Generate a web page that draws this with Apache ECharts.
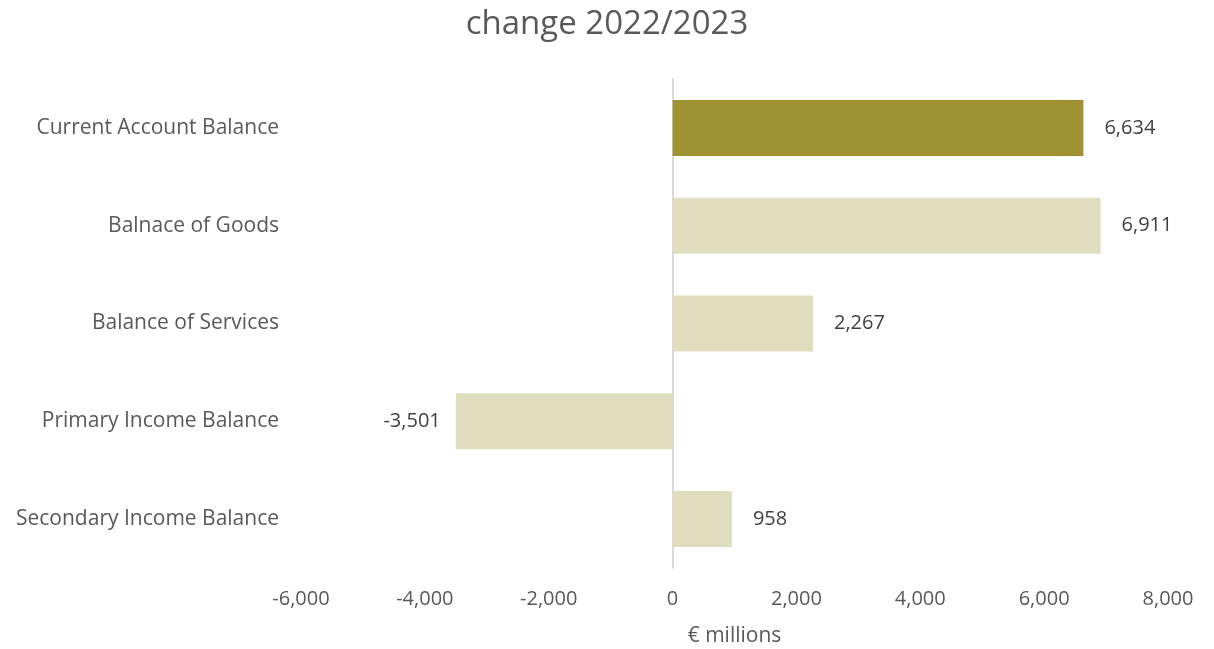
<!DOCTYPE html>
<html><head><meta charset="utf-8">
<script src="https://cdn.jsdelivr.net/npm/echarts@6/dist/echarts.min.js"></script>
<style>html,body{margin:0;padding:0;background:#fff}#c{width:1214px;height:649px}</style>
</head><body><div id="c"></div>
<script>
const categories = ["Current Account Balance","Balnace of Goods","Balance of Services","Primary Income Balance","Secondary Income Balance"];
const values = [6634, 6911, 2267, -3501, 958];
const barColors = ["#9e9232","#e0ddbe","#e0ddbe","#e0ddbe","#e0ddbe"];
const titleText = "change 2022/2023";
const axisName = "€ millions";

const font = "'Open Sans', 'Noto Sans', sans-serif";
const fmt = v => v.toLocaleString('en-US');
const chart = echarts.init(document.getElementById('c'));
chart.setOption({
  animation: false,
  title: {text: titleText, left: 'center', top: 3, textStyle: {fontFamily: font, fontSize: 33, fontWeight: 'normal', color: '#595959'}},
  grid: {left: 301, right: 46, top: 79, bottom: 81, containLabel: false, outerBoundsMode: 'none'},
  xAxis: {
    type: 'value', min: -6000, max: 8000, interval: 2000,
    name: axisName, nameLocation: 'middle', nameGap: 58,
    nameTextStyle: {fontFamily: font, fontSize: 21, color: '#595959'},
    axisLine: {show: false}, axisTick: {show: false}, splitLine: {show: false},
    axisLabel: {formatter: fmt, fontFamily: font, fontSize: 20, color: '#595959', margin: 21}
  },
  yAxis: {
    type: 'category', data: categories, inverse: true,
    axisLine: {show: true, onZero: true, lineStyle: {color: '#d9d9d9', width: 2}},
    axisTick: {show: false},
    axisLabel: {fontFamily: font, fontSize: 21, color: '#595959', margin: 22}
  },
  series: [{
    type: 'bar', barWidth: 56,
    data: values.map((v, i) => ({
      value: v,
      itemStyle: {color: barColors[i]},
      label: {show: true, position: v >= 0 ? 'right' : 'left', distance: v >= 0 ? 21 : 15,
        formatter: p => fmt(p.value), fontFamily: font, fontSize: 20, color: '#404040'}
    }))
  }]
});
</script></body></html>
